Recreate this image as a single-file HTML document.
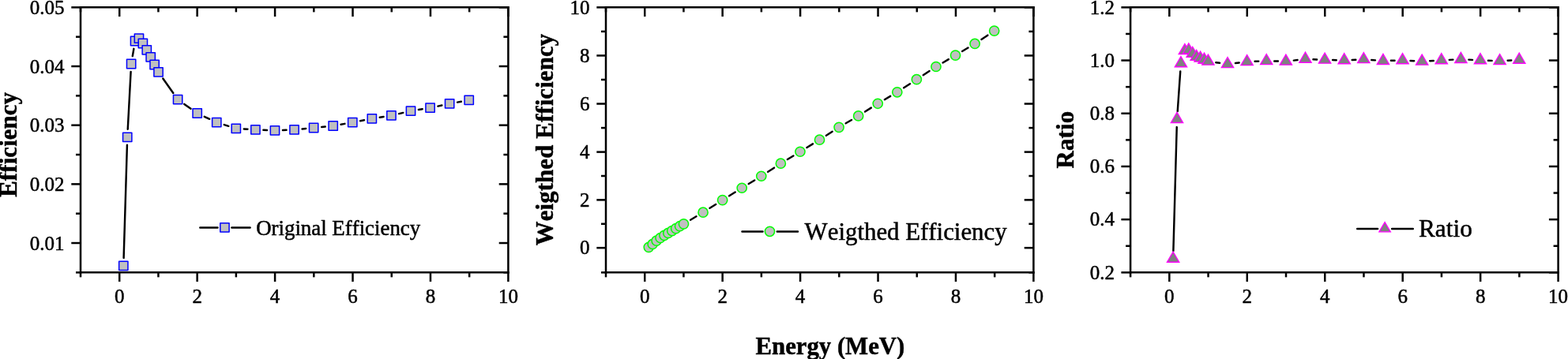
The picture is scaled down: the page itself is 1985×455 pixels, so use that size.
<!DOCTYPE html>
<html lang="en">
<head>
<meta charset="utf-8">
<title>Efficiency plots</title>
<style>
html,body{margin:0;padding:0;background:#fff;}
body{width:1985px;height:455px;overflow:hidden;}
svg{display:block;}
svg text{font-family:"Liberation Serif",serif;fill:#000;stroke:#000;stroke-width:0.5px;stroke-linejoin:round;font-variant-ligatures:none;font-kerning:none;}
</style>
</head>
<body>
<svg width="1985" height="455" viewBox="0 0 1985 455">
<rect width="1985" height="455" fill="#fff"/>
<line x1="100.75" y1="9.35" x2="644.65" y2="9.35" stroke="#000" stroke-width="2.5" stroke-linecap="butt"/>
<line x1="100.75" y1="345.35" x2="644.65" y2="345.35" stroke="#000" stroke-width="2.5" stroke-linecap="butt"/>
<line x1="102" y1="8.1" x2="102" y2="346.6" stroke="#000" stroke-width="2.5" stroke-linecap="butt"/>
<line x1="643.4" y1="8.1" x2="643.4" y2="346.6" stroke="#000" stroke-width="2.5" stroke-linecap="butt"/>
<line x1="102" y1="345.35" x2="102" y2="351.35" stroke="#000" stroke-width="2.5" stroke-linecap="butt"/>
<line x1="102" y1="9.35" x2="102" y2="15.35" stroke="#000" stroke-width="2.5" stroke-linecap="butt"/>
<line x1="151.22" y1="345.35" x2="151.22" y2="357.05" stroke="#000" stroke-width="2.5" stroke-linecap="butt"/>
<line x1="151.22" y1="9.35" x2="151.22" y2="21.05" stroke="#000" stroke-width="2.5" stroke-linecap="butt"/>
<text x="151.22" y="383.65" font-size="25" text-anchor="middle">0</text>
<line x1="200.44" y1="345.35" x2="200.44" y2="351.35" stroke="#000" stroke-width="2.5" stroke-linecap="butt"/>
<line x1="200.44" y1="9.35" x2="200.44" y2="15.35" stroke="#000" stroke-width="2.5" stroke-linecap="butt"/>
<line x1="249.65" y1="345.35" x2="249.65" y2="357.05" stroke="#000" stroke-width="2.5" stroke-linecap="butt"/>
<line x1="249.65" y1="9.35" x2="249.65" y2="21.05" stroke="#000" stroke-width="2.5" stroke-linecap="butt"/>
<text x="249.65" y="383.65" font-size="25" text-anchor="middle">2</text>
<line x1="298.87" y1="345.35" x2="298.87" y2="351.35" stroke="#000" stroke-width="2.5" stroke-linecap="butt"/>
<line x1="298.87" y1="9.35" x2="298.87" y2="15.35" stroke="#000" stroke-width="2.5" stroke-linecap="butt"/>
<line x1="348.09" y1="345.35" x2="348.09" y2="357.05" stroke="#000" stroke-width="2.5" stroke-linecap="butt"/>
<line x1="348.09" y1="9.35" x2="348.09" y2="21.05" stroke="#000" stroke-width="2.5" stroke-linecap="butt"/>
<text x="348.09" y="383.65" font-size="25" text-anchor="middle">4</text>
<line x1="397.31" y1="345.35" x2="397.31" y2="351.35" stroke="#000" stroke-width="2.5" stroke-linecap="butt"/>
<line x1="397.31" y1="9.35" x2="397.31" y2="15.35" stroke="#000" stroke-width="2.5" stroke-linecap="butt"/>
<line x1="446.53" y1="345.35" x2="446.53" y2="357.05" stroke="#000" stroke-width="2.5" stroke-linecap="butt"/>
<line x1="446.53" y1="9.35" x2="446.53" y2="21.05" stroke="#000" stroke-width="2.5" stroke-linecap="butt"/>
<text x="446.53" y="383.65" font-size="25" text-anchor="middle">6</text>
<line x1="495.75" y1="345.35" x2="495.75" y2="351.35" stroke="#000" stroke-width="2.5" stroke-linecap="butt"/>
<line x1="495.75" y1="9.35" x2="495.75" y2="15.35" stroke="#000" stroke-width="2.5" stroke-linecap="butt"/>
<line x1="544.96" y1="345.35" x2="544.96" y2="357.05" stroke="#000" stroke-width="2.5" stroke-linecap="butt"/>
<line x1="544.96" y1="9.35" x2="544.96" y2="21.05" stroke="#000" stroke-width="2.5" stroke-linecap="butt"/>
<text x="544.96" y="383.65" font-size="25" text-anchor="middle">8</text>
<line x1="594.18" y1="345.35" x2="594.18" y2="351.35" stroke="#000" stroke-width="2.5" stroke-linecap="butt"/>
<line x1="594.18" y1="9.35" x2="594.18" y2="15.35" stroke="#000" stroke-width="2.5" stroke-linecap="butt"/>
<line x1="643.4" y1="345.35" x2="643.4" y2="357.05" stroke="#000" stroke-width="2.5" stroke-linecap="butt"/>
<line x1="643.4" y1="9.35" x2="643.4" y2="21.05" stroke="#000" stroke-width="2.5" stroke-linecap="butt"/>
<text x="643.4" y="383.65" font-size="25" text-anchor="middle">10</text>
<line x1="90.3" y1="308.02" x2="102" y2="308.02" stroke="#000" stroke-width="2.5" stroke-linecap="butt"/>
<line x1="631.7" y1="308.02" x2="643.4" y2="308.02" stroke="#000" stroke-width="2.5" stroke-linecap="butt"/>
<line x1="90.3" y1="233.35" x2="102" y2="233.35" stroke="#000" stroke-width="2.5" stroke-linecap="butt"/>
<line x1="631.7" y1="233.35" x2="643.4" y2="233.35" stroke="#000" stroke-width="2.5" stroke-linecap="butt"/>
<line x1="90.3" y1="158.68" x2="102" y2="158.68" stroke="#000" stroke-width="2.5" stroke-linecap="butt"/>
<line x1="631.7" y1="158.68" x2="643.4" y2="158.68" stroke="#000" stroke-width="2.5" stroke-linecap="butt"/>
<line x1="90.3" y1="84.02" x2="102" y2="84.02" stroke="#000" stroke-width="2.5" stroke-linecap="butt"/>
<line x1="631.7" y1="84.02" x2="643.4" y2="84.02" stroke="#000" stroke-width="2.5" stroke-linecap="butt"/>
<line x1="90.3" y1="9.35" x2="102" y2="9.35" stroke="#000" stroke-width="2.5" stroke-linecap="butt"/>
<line x1="631.7" y1="9.35" x2="643.4" y2="9.35" stroke="#000" stroke-width="2.5" stroke-linecap="butt"/>
<line x1="96" y1="345.35" x2="102" y2="345.35" stroke="#000" stroke-width="2.5" stroke-linecap="butt"/>
<line x1="637.4" y1="345.35" x2="643.4" y2="345.35" stroke="#000" stroke-width="2.5" stroke-linecap="butt"/>
<line x1="96" y1="270.68" x2="102" y2="270.68" stroke="#000" stroke-width="2.5" stroke-linecap="butt"/>
<line x1="637.4" y1="270.68" x2="643.4" y2="270.68" stroke="#000" stroke-width="2.5" stroke-linecap="butt"/>
<line x1="96" y1="196.02" x2="102" y2="196.02" stroke="#000" stroke-width="2.5" stroke-linecap="butt"/>
<line x1="637.4" y1="196.02" x2="643.4" y2="196.02" stroke="#000" stroke-width="2.5" stroke-linecap="butt"/>
<line x1="96" y1="121.35" x2="102" y2="121.35" stroke="#000" stroke-width="2.5" stroke-linecap="butt"/>
<line x1="637.4" y1="121.35" x2="643.4" y2="121.35" stroke="#000" stroke-width="2.5" stroke-linecap="butt"/>
<line x1="96" y1="46.68" x2="102" y2="46.68" stroke="#000" stroke-width="2.5" stroke-linecap="butt"/>
<line x1="637.4" y1="46.68" x2="643.4" y2="46.68" stroke="#000" stroke-width="2.5" stroke-linecap="butt"/>
<text x="81.5" y="316.57" font-size="25" text-anchor="end">0.01</text>
<text x="81.5" y="241.9" font-size="25" text-anchor="end">0.02</text>
<text x="81.5" y="167.23" font-size="25" text-anchor="end">0.03</text>
<text x="81.5" y="92.57" font-size="25" text-anchor="end">0.04</text>
<text x="81.5" y="17.9" font-size="25" text-anchor="end">0.05</text>
<line x1="156.6" y1="326.9" x2="160.92" y2="183.8" stroke="#000" stroke-width="2.45" stroke-linecap="round"/>
<line x1="161.75" y1="163.81" x2="165.6" y2="90.99" stroke="#000" stroke-width="2.45" stroke-linecap="round"/>
<line x1="167.8" y1="71.14" x2="169.38" y2="61.86" stroke="#000" stroke-width="2.45" stroke-linecap="round"/>
<line x1="206.3" y1="99.47" x2="219.34" y2="117.93" stroke="#000" stroke-width="2.45" stroke-linecap="round"/>
<line x1="233.27" y1="131.88" x2="241.52" y2="137.72" stroke="#000" stroke-width="2.45" stroke-linecap="round"/>
<line x1="258.73" y1="147.77" x2="265.22" y2="150.83" stroke="#000" stroke-width="2.45" stroke-linecap="round"/>
<line x1="283.8" y1="158.09" x2="289.29" y2="159.81" stroke="#000" stroke-width="2.45" stroke-linecap="round"/>
<line x1="308.81" y1="163.45" x2="313.43" y2="163.75" stroke="#000" stroke-width="2.45" stroke-linecap="round"/>
<line x1="333.4" y1="164.81" x2="337.99" y2="164.99" stroke="#000" stroke-width="2.45" stroke-linecap="round"/>
<line x1="357.97" y1="164.99" x2="362.56" y2="164.81" stroke="#000" stroke-width="2.45" stroke-linecap="round"/>
<line x1="382.51" y1="163.43" x2="387.18" y2="162.97" stroke="#000" stroke-width="2.45" stroke-linecap="round"/>
<line x1="407.08" y1="160.99" x2="411.75" y2="160.51" stroke="#000" stroke-width="2.45" stroke-linecap="round"/>
<line x1="431.55" y1="157.74" x2="436.43" y2="156.86" stroke="#000" stroke-width="2.45" stroke-linecap="round"/>
<line x1="456.1" y1="153.22" x2="461.03" y2="152.28" stroke="#000" stroke-width="2.45" stroke-linecap="round"/>
<line x1="480.72" y1="148.79" x2="485.56" y2="148.01" stroke="#000" stroke-width="2.45" stroke-linecap="round"/>
<line x1="505.16" y1="144.1" x2="510.27" y2="142.9" stroke="#000" stroke-width="2.45" stroke-linecap="round"/>
<line x1="529.88" y1="139.03" x2="534.7" y2="138.27" stroke="#000" stroke-width="2.45" stroke-linecap="round"/>
<line x1="554.35" y1="134.59" x2="559.37" y2="133.51" stroke="#000" stroke-width="2.45" stroke-linecap="round"/>
<line x1="578.98" y1="129.6" x2="583.89" y2="128.7" stroke="#000" stroke-width="2.45" stroke-linecap="round"/>
<rect x="150.65" y="331.25" width="11.3" height="11.3" fill="#c0c0c0" stroke="#0000ff" stroke-width="1.5" stroke-linejoin="round"/>
<rect x="155.57" y="168.15" width="11.3" height="11.3" fill="#c0c0c0" stroke="#0000ff" stroke-width="1.5" stroke-linejoin="round"/>
<rect x="160.48" y="75.35" width="11.3" height="11.3" fill="#c0c0c0" stroke="#0000ff" stroke-width="1.5" stroke-linejoin="round"/>
<rect x="165.4" y="46.35" width="11.3" height="11.3" fill="#c0c0c0" stroke="#0000ff" stroke-width="1.5" stroke-linejoin="round"/>
<rect x="170.31" y="43.05" width="11.3" height="11.3" fill="#c0c0c0" stroke="#0000ff" stroke-width="1.5" stroke-linejoin="round"/>
<rect x="175.23" y="49.35" width="11.3" height="11.3" fill="#c0c0c0" stroke="#0000ff" stroke-width="1.5" stroke-linejoin="round"/>
<rect x="180.14" y="57.75" width="11.3" height="11.3" fill="#c0c0c0" stroke="#0000ff" stroke-width="1.5" stroke-linejoin="round"/>
<rect x="185.06" y="66.75" width="11.3" height="11.3" fill="#c0c0c0" stroke="#0000ff" stroke-width="1.5" stroke-linejoin="round"/>
<rect x="189.97" y="76.35" width="11.3" height="11.3" fill="#c0c0c0" stroke="#0000ff" stroke-width="1.5" stroke-linejoin="round"/>
<rect x="194.89" y="85.65" width="11.3" height="11.3" fill="#c0c0c0" stroke="#0000ff" stroke-width="1.5" stroke-linejoin="round"/>
<rect x="219.46" y="120.45" width="11.3" height="11.3" fill="#c0c0c0" stroke="#0000ff" stroke-width="1.5" stroke-linejoin="round"/>
<rect x="244.03" y="137.85" width="11.3" height="11.3" fill="#c0c0c0" stroke="#0000ff" stroke-width="1.5" stroke-linejoin="round"/>
<rect x="268.61" y="149.45" width="11.3" height="11.3" fill="#c0c0c0" stroke="#0000ff" stroke-width="1.5" stroke-linejoin="round"/>
<rect x="293.18" y="157.15" width="11.3" height="11.3" fill="#c0c0c0" stroke="#0000ff" stroke-width="1.5" stroke-linejoin="round"/>
<rect x="317.76" y="158.75" width="11.3" height="11.3" fill="#c0c0c0" stroke="#0000ff" stroke-width="1.5" stroke-linejoin="round"/>
<rect x="342.33" y="159.75" width="11.3" height="11.3" fill="#c0c0c0" stroke="#0000ff" stroke-width="1.5" stroke-linejoin="round"/>
<rect x="366.91" y="158.75" width="11.3" height="11.3" fill="#c0c0c0" stroke="#0000ff" stroke-width="1.5" stroke-linejoin="round"/>
<rect x="391.48" y="156.35" width="11.3" height="11.3" fill="#c0c0c0" stroke="#0000ff" stroke-width="1.5" stroke-linejoin="round"/>
<rect x="416.05" y="153.85" width="11.3" height="11.3" fill="#c0c0c0" stroke="#0000ff" stroke-width="1.5" stroke-linejoin="round"/>
<rect x="440.63" y="149.45" width="11.3" height="11.3" fill="#c0c0c0" stroke="#0000ff" stroke-width="1.5" stroke-linejoin="round"/>
<rect x="465.2" y="144.75" width="11.3" height="11.3" fill="#c0c0c0" stroke="#0000ff" stroke-width="1.5" stroke-linejoin="round"/>
<rect x="489.78" y="140.75" width="11.3" height="11.3" fill="#c0c0c0" stroke="#0000ff" stroke-width="1.5" stroke-linejoin="round"/>
<rect x="514.35" y="134.95" width="11.3" height="11.3" fill="#c0c0c0" stroke="#0000ff" stroke-width="1.5" stroke-linejoin="round"/>
<rect x="538.92" y="131.05" width="11.3" height="11.3" fill="#c0c0c0" stroke="#0000ff" stroke-width="1.5" stroke-linejoin="round"/>
<rect x="563.5" y="125.75" width="11.3" height="11.3" fill="#c0c0c0" stroke="#0000ff" stroke-width="1.5" stroke-linejoin="round"/>
<rect x="588.07" y="121.25" width="11.3" height="11.3" fill="#c0c0c0" stroke="#0000ff" stroke-width="1.5" stroke-linejoin="round"/>
<line x1="253.3" y1="288.4" x2="275.5" y2="288.4" stroke="#000" stroke-width="2.45" stroke-linecap="round"/>
<line x1="293.4" y1="288.4" x2="316.6" y2="288.4" stroke="#000" stroke-width="2.45" stroke-linecap="round"/>
<rect x="278.8" y="282.8" width="11.3" height="11.3" fill="#c0c0c0" stroke="#0000ff" stroke-width="1.5" stroke-linejoin="round"/>
<text x="324.2" y="297.8" font-size="26.85" text-anchor="start">Original Efficiency</text>
<text x="0" y="0" font-size="30.75" text-anchor="middle" font-weight="bold" transform="translate(20.8 183.3) rotate(-90)" letter-spacing="0.15">Efficiency</text>
<line x1="765.75" y1="9.35" x2="1309.65" y2="9.35" stroke="#000" stroke-width="2.5" stroke-linecap="butt"/>
<line x1="765.75" y1="345.35" x2="1309.65" y2="345.35" stroke="#000" stroke-width="2.5" stroke-linecap="butt"/>
<line x1="767" y1="8.1" x2="767" y2="346.6" stroke="#000" stroke-width="2.5" stroke-linecap="butt"/>
<line x1="1308.4" y1="8.1" x2="1308.4" y2="346.6" stroke="#000" stroke-width="2.5" stroke-linecap="butt"/>
<line x1="767" y1="345.35" x2="767" y2="351.35" stroke="#000" stroke-width="2.5" stroke-linecap="butt"/>
<line x1="767" y1="9.35" x2="767" y2="15.35" stroke="#000" stroke-width="2.5" stroke-linecap="butt"/>
<line x1="816.22" y1="345.35" x2="816.22" y2="357.05" stroke="#000" stroke-width="2.5" stroke-linecap="butt"/>
<line x1="816.22" y1="9.35" x2="816.22" y2="21.05" stroke="#000" stroke-width="2.5" stroke-linecap="butt"/>
<text x="816.22" y="383.65" font-size="25" text-anchor="middle">0</text>
<line x1="865.44" y1="345.35" x2="865.44" y2="351.35" stroke="#000" stroke-width="2.5" stroke-linecap="butt"/>
<line x1="865.44" y1="9.35" x2="865.44" y2="15.35" stroke="#000" stroke-width="2.5" stroke-linecap="butt"/>
<line x1="914.65" y1="345.35" x2="914.65" y2="357.05" stroke="#000" stroke-width="2.5" stroke-linecap="butt"/>
<line x1="914.65" y1="9.35" x2="914.65" y2="21.05" stroke="#000" stroke-width="2.5" stroke-linecap="butt"/>
<text x="914.65" y="383.65" font-size="25" text-anchor="middle">2</text>
<line x1="963.87" y1="345.35" x2="963.87" y2="351.35" stroke="#000" stroke-width="2.5" stroke-linecap="butt"/>
<line x1="963.87" y1="9.35" x2="963.87" y2="15.35" stroke="#000" stroke-width="2.5" stroke-linecap="butt"/>
<line x1="1013.09" y1="345.35" x2="1013.09" y2="357.05" stroke="#000" stroke-width="2.5" stroke-linecap="butt"/>
<line x1="1013.09" y1="9.35" x2="1013.09" y2="21.05" stroke="#000" stroke-width="2.5" stroke-linecap="butt"/>
<text x="1013.09" y="383.65" font-size="25" text-anchor="middle">4</text>
<line x1="1062.31" y1="345.35" x2="1062.31" y2="351.35" stroke="#000" stroke-width="2.5" stroke-linecap="butt"/>
<line x1="1062.31" y1="9.35" x2="1062.31" y2="15.35" stroke="#000" stroke-width="2.5" stroke-linecap="butt"/>
<line x1="1111.53" y1="345.35" x2="1111.53" y2="357.05" stroke="#000" stroke-width="2.5" stroke-linecap="butt"/>
<line x1="1111.53" y1="9.35" x2="1111.53" y2="21.05" stroke="#000" stroke-width="2.5" stroke-linecap="butt"/>
<text x="1111.53" y="383.65" font-size="25" text-anchor="middle">6</text>
<line x1="1160.75" y1="345.35" x2="1160.75" y2="351.35" stroke="#000" stroke-width="2.5" stroke-linecap="butt"/>
<line x1="1160.75" y1="9.35" x2="1160.75" y2="15.35" stroke="#000" stroke-width="2.5" stroke-linecap="butt"/>
<line x1="1209.96" y1="345.35" x2="1209.96" y2="357.05" stroke="#000" stroke-width="2.5" stroke-linecap="butt"/>
<line x1="1209.96" y1="9.35" x2="1209.96" y2="21.05" stroke="#000" stroke-width="2.5" stroke-linecap="butt"/>
<text x="1209.96" y="383.65" font-size="25" text-anchor="middle">8</text>
<line x1="1259.18" y1="345.35" x2="1259.18" y2="351.35" stroke="#000" stroke-width="2.5" stroke-linecap="butt"/>
<line x1="1259.18" y1="9.35" x2="1259.18" y2="15.35" stroke="#000" stroke-width="2.5" stroke-linecap="butt"/>
<line x1="1308.4" y1="345.35" x2="1308.4" y2="357.05" stroke="#000" stroke-width="2.5" stroke-linecap="butt"/>
<line x1="1308.4" y1="9.35" x2="1308.4" y2="21.05" stroke="#000" stroke-width="2.5" stroke-linecap="butt"/>
<text x="1308.4" y="383.65" font-size="25" text-anchor="middle">10</text>
<line x1="755.3" y1="314.14" x2="767" y2="314.14" stroke="#000" stroke-width="2.5" stroke-linecap="butt"/>
<line x1="1296.7" y1="314.14" x2="1308.4" y2="314.14" stroke="#000" stroke-width="2.5" stroke-linecap="butt"/>
<line x1="755.3" y1="253.38" x2="767" y2="253.38" stroke="#000" stroke-width="2.5" stroke-linecap="butt"/>
<line x1="1296.7" y1="253.38" x2="1308.4" y2="253.38" stroke="#000" stroke-width="2.5" stroke-linecap="butt"/>
<line x1="755.3" y1="192.62" x2="767" y2="192.62" stroke="#000" stroke-width="2.5" stroke-linecap="butt"/>
<line x1="1296.7" y1="192.62" x2="1308.4" y2="192.62" stroke="#000" stroke-width="2.5" stroke-linecap="butt"/>
<line x1="755.3" y1="131.53" x2="767" y2="131.53" stroke="#000" stroke-width="2.5" stroke-linecap="butt"/>
<line x1="1296.7" y1="131.53" x2="1308.4" y2="131.53" stroke="#000" stroke-width="2.5" stroke-linecap="butt"/>
<line x1="755.3" y1="70.44" x2="767" y2="70.44" stroke="#000" stroke-width="2.5" stroke-linecap="butt"/>
<line x1="1296.7" y1="70.44" x2="1308.4" y2="70.44" stroke="#000" stroke-width="2.5" stroke-linecap="butt"/>
<line x1="755.3" y1="9.35" x2="767" y2="9.35" stroke="#000" stroke-width="2.5" stroke-linecap="butt"/>
<line x1="1296.7" y1="9.35" x2="1308.4" y2="9.35" stroke="#000" stroke-width="2.5" stroke-linecap="butt"/>
<line x1="761" y1="345.35" x2="767" y2="345.35" stroke="#000" stroke-width="2.5" stroke-linecap="butt"/>
<line x1="1302.4" y1="345.35" x2="1308.4" y2="345.35" stroke="#000" stroke-width="2.5" stroke-linecap="butt"/>
<line x1="761" y1="283.76" x2="767" y2="283.76" stroke="#000" stroke-width="2.5" stroke-linecap="butt"/>
<line x1="1302.4" y1="283.76" x2="1308.4" y2="283.76" stroke="#000" stroke-width="2.5" stroke-linecap="butt"/>
<line x1="761" y1="223" x2="767" y2="223" stroke="#000" stroke-width="2.5" stroke-linecap="butt"/>
<line x1="1302.4" y1="223" x2="1308.4" y2="223" stroke="#000" stroke-width="2.5" stroke-linecap="butt"/>
<line x1="761" y1="162.08" x2="767" y2="162.08" stroke="#000" stroke-width="2.5" stroke-linecap="butt"/>
<line x1="1302.4" y1="162.08" x2="1308.4" y2="162.08" stroke="#000" stroke-width="2.5" stroke-linecap="butt"/>
<line x1="761" y1="100.98" x2="767" y2="100.98" stroke="#000" stroke-width="2.5" stroke-linecap="butt"/>
<line x1="1302.4" y1="100.98" x2="1308.4" y2="100.98" stroke="#000" stroke-width="2.5" stroke-linecap="butt"/>
<line x1="761" y1="39.9" x2="767" y2="39.9" stroke="#000" stroke-width="2.5" stroke-linecap="butt"/>
<line x1="1302.4" y1="39.9" x2="1308.4" y2="39.9" stroke="#000" stroke-width="2.5" stroke-linecap="butt"/>
<text x="746.6" y="322.44" font-size="25" text-anchor="end">0</text>
<text x="746.6" y="261.68" font-size="25" text-anchor="end">2</text>
<text x="746.6" y="200.92" font-size="25" text-anchor="end">4</text>
<text x="746.6" y="139.83" font-size="25" text-anchor="end">6</text>
<text x="746.6" y="78.74" font-size="25" text-anchor="end">8</text>
<text x="746.6" y="17.65" font-size="25" text-anchor="end">10</text>
<line x1="874.07" y1="278.72" x2="881.48" y2="274.29" stroke="#000" stroke-width="2.45" stroke-linecap="round"/>
<line x1="898.51" y1="263.82" x2="906.18" y2="258.97" stroke="#000" stroke-width="2.45" stroke-linecap="round"/>
<line x1="923.12" y1="248.33" x2="930.73" y2="243.57" stroke="#000" stroke-width="2.45" stroke-linecap="round"/>
<line x1="947.74" y1="233.06" x2="955.25" y2="228.47" stroke="#000" stroke-width="2.45" stroke-linecap="round"/>
<line x1="972.15" y1="217.79" x2="979.99" y2="212.66" stroke="#000" stroke-width="2.45" stroke-linecap="round"/>
<line x1="996.9" y1="201.99" x2="1004.39" y2="197.44" stroke="#000" stroke-width="2.45" stroke-linecap="round"/>
<line x1="1021.45" y1="187.01" x2="1028.98" y2="182.39" stroke="#000" stroke-width="2.45" stroke-linecap="round"/>
<line x1="1045.92" y1="171.76" x2="1053.67" y2="166.78" stroke="#000" stroke-width="2.45" stroke-linecap="round"/>
<line x1="1070.7" y1="156.3" x2="1078.03" y2="151.99" stroke="#000" stroke-width="2.45" stroke-linecap="round"/>
<line x1="1095.09" y1="141.56" x2="1102.79" y2="136.65" stroke="#000" stroke-width="2.45" stroke-linecap="round"/>
<line x1="1119.85" y1="126.21" x2="1127.18" y2="121.89" stroke="#000" stroke-width="2.45" stroke-linecap="round"/>
<line x1="1144.16" y1="111.33" x2="1152.01" y2="106.18" stroke="#000" stroke-width="2.45" stroke-linecap="round"/>
<line x1="1168.73" y1="95.2" x2="1176.6" y2="90.02" stroke="#000" stroke-width="2.45" stroke-linecap="round"/>
<line x1="1193.58" y1="79.46" x2="1200.9" y2="75.17" stroke="#000" stroke-width="2.45" stroke-linecap="round"/>
<line x1="1218.11" y1="64.99" x2="1225.51" y2="60.56" stroke="#000" stroke-width="2.45" stroke-linecap="round"/>
<line x1="1242.43" y1="49.91" x2="1250.34" y2="44.65" stroke="#000" stroke-width="2.45" stroke-linecap="round"/>
<circle cx="821.25" cy="313.37" r="6.1" fill="#c0c0c0" stroke="#00ff00" stroke-width="1.5"/>
<circle cx="826.17" cy="309.41" r="6.1" fill="#c0c0c0" stroke="#00ff00" stroke-width="1.5"/>
<circle cx="831.08" cy="305.12" r="6.1" fill="#c0c0c0" stroke="#00ff00" stroke-width="1.5"/>
<circle cx="836" cy="301.53" r="6.1" fill="#c0c0c0" stroke="#00ff00" stroke-width="1.5"/>
<circle cx="840.91" cy="298.35" r="6.1" fill="#c0c0c0" stroke="#00ff00" stroke-width="1.5"/>
<circle cx="845.83" cy="295.43" r="6.1" fill="#c0c0c0" stroke="#00ff00" stroke-width="1.5"/>
<circle cx="850.74" cy="292.57" r="6.1" fill="#c0c0c0" stroke="#00ff00" stroke-width="1.5"/>
<circle cx="855.66" cy="289.62" r="6.1" fill="#c0c0c0" stroke="#00ff00" stroke-width="1.5"/>
<circle cx="860.57" cy="286.72" r="6.1" fill="#c0c0c0" stroke="#00ff00" stroke-width="1.5"/>
<circle cx="865.49" cy="283.85" r="6.1" fill="#c0c0c0" stroke="#00ff00" stroke-width="1.5"/>
<circle cx="890.06" cy="269.16" r="6.1" fill="#c0c0c0" stroke="#00ff00" stroke-width="1.5"/>
<circle cx="914.63" cy="253.62" r="6.1" fill="#c0c0c0" stroke="#00ff00" stroke-width="1.5"/>
<circle cx="939.21" cy="238.27" r="6.1" fill="#c0c0c0" stroke="#00ff00" stroke-width="1.5"/>
<circle cx="963.78" cy="223.26" r="6.1" fill="#c0c0c0" stroke="#00ff00" stroke-width="1.5"/>
<circle cx="988.36" cy="207.19" r="6.1" fill="#c0c0c0" stroke="#00ff00" stroke-width="1.5"/>
<circle cx="1012.93" cy="192.24" r="6.1" fill="#c0c0c0" stroke="#00ff00" stroke-width="1.5"/>
<circle cx="1037.51" cy="177.16" r="6.1" fill="#c0c0c0" stroke="#00ff00" stroke-width="1.5"/>
<circle cx="1062.08" cy="161.37" r="6.1" fill="#c0c0c0" stroke="#00ff00" stroke-width="1.5"/>
<circle cx="1086.65" cy="146.93" r="6.1" fill="#c0c0c0" stroke="#00ff00" stroke-width="1.5"/>
<circle cx="1111.23" cy="131.28" r="6.1" fill="#c0c0c0" stroke="#00ff00" stroke-width="1.5"/>
<circle cx="1135.8" cy="116.82" r="6.1" fill="#c0c0c0" stroke="#00ff00" stroke-width="1.5"/>
<circle cx="1160.38" cy="100.7" r="6.1" fill="#c0c0c0" stroke="#00ff00" stroke-width="1.5"/>
<circle cx="1184.95" cy="84.52" r="6.1" fill="#c0c0c0" stroke="#00ff00" stroke-width="1.5"/>
<circle cx="1209.52" cy="70.11" r="6.1" fill="#c0c0c0" stroke="#00ff00" stroke-width="1.5"/>
<circle cx="1234.1" cy="55.44" r="6.1" fill="#c0c0c0" stroke="#00ff00" stroke-width="1.5"/>
<circle cx="1258.67" cy="39.12" r="6.1" fill="#c0c0c0" stroke="#00ff00" stroke-width="1.5"/>
<line x1="939.5" y1="293.5" x2="965.5" y2="293.5" stroke="#000" stroke-width="2.45" stroke-linecap="round"/>
<line x1="983.8" y1="293.5" x2="1010" y2="293.5" stroke="#000" stroke-width="2.45" stroke-linecap="round"/>
<circle cx="974.5" cy="293.3" r="6.1" fill="#c0c0c0" stroke="#00ff00" stroke-width="1.5"/>
<text x="1018.6" y="304" font-size="30.85" text-anchor="start">Weigthed Efficiency</text>
<text x="0" y="0" font-size="30.75" text-anchor="middle" font-weight="bold" transform="translate(699.85 177) rotate(-90)" letter-spacing="0.15">Weigthed Efficiency</text>
<line x1="1429.85" y1="9.35" x2="1973.85" y2="9.35" stroke="#000" stroke-width="2.5" stroke-linecap="butt"/>
<line x1="1429.85" y1="345.35" x2="1973.85" y2="345.35" stroke="#000" stroke-width="2.5" stroke-linecap="butt"/>
<line x1="1431.1" y1="8.1" x2="1431.1" y2="346.6" stroke="#000" stroke-width="2.5" stroke-linecap="butt"/>
<line x1="1972.6" y1="8.1" x2="1972.6" y2="346.6" stroke="#000" stroke-width="2.5" stroke-linecap="butt"/>
<line x1="1431.1" y1="345.35" x2="1431.1" y2="351.35" stroke="#000" stroke-width="2.5" stroke-linecap="butt"/>
<line x1="1431.1" y1="9.35" x2="1431.1" y2="15.35" stroke="#000" stroke-width="2.5" stroke-linecap="butt"/>
<line x1="1480.33" y1="345.35" x2="1480.33" y2="357.05" stroke="#000" stroke-width="2.5" stroke-linecap="butt"/>
<line x1="1480.33" y1="9.35" x2="1480.33" y2="21.05" stroke="#000" stroke-width="2.5" stroke-linecap="butt"/>
<text x="1480.33" y="383.65" font-size="25" text-anchor="middle">0</text>
<line x1="1529.55" y1="345.35" x2="1529.55" y2="351.35" stroke="#000" stroke-width="2.5" stroke-linecap="butt"/>
<line x1="1529.55" y1="9.35" x2="1529.55" y2="15.35" stroke="#000" stroke-width="2.5" stroke-linecap="butt"/>
<line x1="1578.78" y1="345.35" x2="1578.78" y2="357.05" stroke="#000" stroke-width="2.5" stroke-linecap="butt"/>
<line x1="1578.78" y1="9.35" x2="1578.78" y2="21.05" stroke="#000" stroke-width="2.5" stroke-linecap="butt"/>
<text x="1578.78" y="383.65" font-size="25" text-anchor="middle">2</text>
<line x1="1628.01" y1="345.35" x2="1628.01" y2="351.35" stroke="#000" stroke-width="2.5" stroke-linecap="butt"/>
<line x1="1628.01" y1="9.35" x2="1628.01" y2="15.35" stroke="#000" stroke-width="2.5" stroke-linecap="butt"/>
<line x1="1677.24" y1="345.35" x2="1677.24" y2="357.05" stroke="#000" stroke-width="2.5" stroke-linecap="butt"/>
<line x1="1677.24" y1="9.35" x2="1677.24" y2="21.05" stroke="#000" stroke-width="2.5" stroke-linecap="butt"/>
<text x="1677.24" y="383.65" font-size="25" text-anchor="middle">4</text>
<line x1="1726.46" y1="345.35" x2="1726.46" y2="351.35" stroke="#000" stroke-width="2.5" stroke-linecap="butt"/>
<line x1="1726.46" y1="9.35" x2="1726.46" y2="15.35" stroke="#000" stroke-width="2.5" stroke-linecap="butt"/>
<line x1="1775.69" y1="345.35" x2="1775.69" y2="357.05" stroke="#000" stroke-width="2.5" stroke-linecap="butt"/>
<line x1="1775.69" y1="9.35" x2="1775.69" y2="21.05" stroke="#000" stroke-width="2.5" stroke-linecap="butt"/>
<text x="1775.69" y="383.65" font-size="25" text-anchor="middle">6</text>
<line x1="1824.92" y1="345.35" x2="1824.92" y2="351.35" stroke="#000" stroke-width="2.5" stroke-linecap="butt"/>
<line x1="1824.92" y1="9.35" x2="1824.92" y2="15.35" stroke="#000" stroke-width="2.5" stroke-linecap="butt"/>
<line x1="1874.15" y1="345.35" x2="1874.15" y2="357.05" stroke="#000" stroke-width="2.5" stroke-linecap="butt"/>
<line x1="1874.15" y1="9.35" x2="1874.15" y2="21.05" stroke="#000" stroke-width="2.5" stroke-linecap="butt"/>
<text x="1874.15" y="383.65" font-size="25" text-anchor="middle">8</text>
<line x1="1923.37" y1="345.35" x2="1923.37" y2="351.35" stroke="#000" stroke-width="2.5" stroke-linecap="butt"/>
<line x1="1923.37" y1="9.35" x2="1923.37" y2="15.35" stroke="#000" stroke-width="2.5" stroke-linecap="butt"/>
<line x1="1972.6" y1="345.35" x2="1972.6" y2="357.05" stroke="#000" stroke-width="2.5" stroke-linecap="butt"/>
<line x1="1972.6" y1="9.35" x2="1972.6" y2="21.05" stroke="#000" stroke-width="2.5" stroke-linecap="butt"/>
<text x="1972.6" y="383.65" font-size="25" text-anchor="middle">10</text>
<line x1="1419.4" y1="345.35" x2="1431.1" y2="345.35" stroke="#000" stroke-width="2.5" stroke-linecap="butt"/>
<line x1="1960.9" y1="345.35" x2="1972.6" y2="345.35" stroke="#000" stroke-width="2.5" stroke-linecap="butt"/>
<line x1="1419.4" y1="278.15" x2="1431.1" y2="278.15" stroke="#000" stroke-width="2.5" stroke-linecap="butt"/>
<line x1="1960.9" y1="278.15" x2="1972.6" y2="278.15" stroke="#000" stroke-width="2.5" stroke-linecap="butt"/>
<line x1="1419.4" y1="210.95" x2="1431.1" y2="210.95" stroke="#000" stroke-width="2.5" stroke-linecap="butt"/>
<line x1="1960.9" y1="210.95" x2="1972.6" y2="210.95" stroke="#000" stroke-width="2.5" stroke-linecap="butt"/>
<line x1="1419.4" y1="143.75" x2="1431.1" y2="143.75" stroke="#000" stroke-width="2.5" stroke-linecap="butt"/>
<line x1="1960.9" y1="143.75" x2="1972.6" y2="143.75" stroke="#000" stroke-width="2.5" stroke-linecap="butt"/>
<line x1="1419.4" y1="76.55" x2="1431.1" y2="76.55" stroke="#000" stroke-width="2.5" stroke-linecap="butt"/>
<line x1="1960.9" y1="76.55" x2="1972.6" y2="76.55" stroke="#000" stroke-width="2.5" stroke-linecap="butt"/>
<line x1="1419.4" y1="9.35" x2="1431.1" y2="9.35" stroke="#000" stroke-width="2.5" stroke-linecap="butt"/>
<line x1="1960.9" y1="9.35" x2="1972.6" y2="9.35" stroke="#000" stroke-width="2.5" stroke-linecap="butt"/>
<line x1="1425.1" y1="311.75" x2="1431.1" y2="311.75" stroke="#000" stroke-width="2.5" stroke-linecap="butt"/>
<line x1="1966.6" y1="311.75" x2="1972.6" y2="311.75" stroke="#000" stroke-width="2.5" stroke-linecap="butt"/>
<line x1="1425.1" y1="244.55" x2="1431.1" y2="244.55" stroke="#000" stroke-width="2.5" stroke-linecap="butt"/>
<line x1="1966.6" y1="244.55" x2="1972.6" y2="244.55" stroke="#000" stroke-width="2.5" stroke-linecap="butt"/>
<line x1="1425.1" y1="177.35" x2="1431.1" y2="177.35" stroke="#000" stroke-width="2.5" stroke-linecap="butt"/>
<line x1="1966.6" y1="177.35" x2="1972.6" y2="177.35" stroke="#000" stroke-width="2.5" stroke-linecap="butt"/>
<line x1="1425.1" y1="110.15" x2="1431.1" y2="110.15" stroke="#000" stroke-width="2.5" stroke-linecap="butt"/>
<line x1="1966.6" y1="110.15" x2="1972.6" y2="110.15" stroke="#000" stroke-width="2.5" stroke-linecap="butt"/>
<line x1="1425.1" y1="42.95" x2="1431.1" y2="42.95" stroke="#000" stroke-width="2.5" stroke-linecap="butt"/>
<line x1="1966.6" y1="42.95" x2="1972.6" y2="42.95" stroke="#000" stroke-width="2.5" stroke-linecap="butt"/>
<text x="1411" y="353.65" font-size="25" text-anchor="end">0.2</text>
<text x="1411" y="286.45" font-size="25" text-anchor="end">0.4</text>
<text x="1411" y="219.25" font-size="25" text-anchor="end">0.6</text>
<text x="1411" y="152.05" font-size="25" text-anchor="end">0.8</text>
<text x="1411" y="84.85" font-size="25" text-anchor="end">1.0</text>
<text x="1411" y="17.65" font-size="25" text-anchor="end">1.2</text>
<line x1="1485.38" y1="317.9" x2="1489.74" y2="161.1" stroke="#000" stroke-width="2.45" stroke-linecap="round"/>
<line x1="1490.72" y1="141.12" x2="1494.25" y2="90.38" stroke="#000" stroke-width="2.45" stroke-linecap="round"/>
<line x1="1539.31" y1="79.17" x2="1544.11" y2="79.83" stroke="#000" stroke-width="2.45" stroke-linecap="round"/>
<line x1="1563.94" y1="79.99" x2="1568.71" y2="79.41" stroke="#000" stroke-width="2.45" stroke-linecap="round"/>
<line x1="1588.62" y1="77.79" x2="1593.25" y2="77.61" stroke="#000" stroke-width="2.45" stroke-linecap="round"/>
<line x1="1613.24" y1="77.44" x2="1617.86" y2="77.56" stroke="#000" stroke-width="2.45" stroke-linecap="round"/>
<line x1="1637.79" y1="76.63" x2="1642.54" y2="76.07" stroke="#000" stroke-width="2.45" stroke-linecap="round"/>
<line x1="1662.47" y1="75.27" x2="1667.09" y2="75.43" stroke="#000" stroke-width="2.45" stroke-linecap="round"/>
<line x1="1687.08" y1="76.04" x2="1691.7" y2="76.16" stroke="#000" stroke-width="2.45" stroke-linecap="round"/>
<line x1="1711.69" y1="75.95" x2="1716.32" y2="75.75" stroke="#000" stroke-width="2.45" stroke-linecap="round"/>
<line x1="1736.29" y1="76.03" x2="1740.95" y2="76.37" stroke="#000" stroke-width="2.45" stroke-linecap="round"/>
<line x1="1760.92" y1="76.82" x2="1765.54" y2="76.68" stroke="#000" stroke-width="2.45" stroke-linecap="round"/>
<line x1="1785.52" y1="76.97" x2="1790.17" y2="77.23" stroke="#000" stroke-width="2.45" stroke-linecap="round"/>
<line x1="1810.14" y1="77.23" x2="1814.78" y2="76.97" stroke="#000" stroke-width="2.45" stroke-linecap="round"/>
<line x1="1834.75" y1="75.87" x2="1839.4" y2="75.63" stroke="#000" stroke-width="2.45" stroke-linecap="round"/>
<line x1="1859.37" y1="75.63" x2="1864.01" y2="75.87" stroke="#000" stroke-width="2.45" stroke-linecap="round"/>
<line x1="1883.99" y1="76.72" x2="1888.61" y2="76.88" stroke="#000" stroke-width="2.45" stroke-linecap="round"/>
<line x1="1908.6" y1="76.67" x2="1913.24" y2="76.43" stroke="#000" stroke-width="2.45" stroke-linecap="round"/>
<polygon points="1485.1,319.17 1477.45,332.27 1492.75,332.27" fill="#808080" stroke="#ff00ff" stroke-width="1.35" stroke-linejoin="miter"/>
<polygon points="1490.02,142.37 1482.37,155.47 1497.67,155.47" fill="#808080" stroke="#ff00ff" stroke-width="1.35" stroke-linejoin="miter"/>
<polygon points="1494.95,71.67 1487.3,84.77 1502.6,84.77" fill="#808080" stroke="#ff00ff" stroke-width="1.35" stroke-linejoin="miter"/>
<polygon points="1499.87,55.57 1492.22,68.67 1507.52,68.67" fill="#808080" stroke="#ff00ff" stroke-width="1.35" stroke-linejoin="miter"/>
<polygon points="1504.79,54.87 1497.14,67.97 1512.44,67.97" fill="#808080" stroke="#ff00ff" stroke-width="1.35" stroke-linejoin="miter"/>
<polygon points="1509.71,59.27 1502.06,72.37 1517.36,72.37" fill="#808080" stroke="#ff00ff" stroke-width="1.35" stroke-linejoin="miter"/>
<polygon points="1514.64,63.27 1506.99,76.37 1522.29,76.37" fill="#808080" stroke="#ff00ff" stroke-width="1.35" stroke-linejoin="miter"/>
<polygon points="1519.56,65.07 1511.91,78.17 1527.21,78.17" fill="#808080" stroke="#ff00ff" stroke-width="1.35" stroke-linejoin="miter"/>
<polygon points="1524.48,67.17 1516.83,80.27 1532.13,80.27" fill="#808080" stroke="#ff00ff" stroke-width="1.35" stroke-linejoin="miter"/>
<polygon points="1529.4,69.07 1521.75,82.17 1537.05,82.17" fill="#808080" stroke="#ff00ff" stroke-width="1.35" stroke-linejoin="miter"/>
<polygon points="1554.02,72.47 1546.37,85.57 1561.67,85.57" fill="#808080" stroke="#ff00ff" stroke-width="1.35" stroke-linejoin="miter"/>
<polygon points="1578.63,69.47 1570.98,82.57 1586.28,82.57" fill="#808080" stroke="#ff00ff" stroke-width="1.35" stroke-linejoin="miter"/>
<polygon points="1603.25,68.47 1595.6,81.57 1610.9,81.57" fill="#808080" stroke="#ff00ff" stroke-width="1.35" stroke-linejoin="miter"/>
<polygon points="1627.86,69.07 1620.21,82.17 1635.51,82.17" fill="#808080" stroke="#ff00ff" stroke-width="1.35" stroke-linejoin="miter"/>
<polygon points="1652.47,66.17 1644.82,79.27 1660.12,79.27" fill="#808080" stroke="#ff00ff" stroke-width="1.35" stroke-linejoin="miter"/>
<polygon points="1677.09,67.07 1669.44,80.17 1684.74,80.17" fill="#808080" stroke="#ff00ff" stroke-width="1.35" stroke-linejoin="miter"/>
<polygon points="1701.7,67.67 1694.05,80.77 1709.35,80.77" fill="#808080" stroke="#ff00ff" stroke-width="1.35" stroke-linejoin="miter"/>
<polygon points="1726.31,66.57 1718.66,79.67 1733.96,79.67" fill="#808080" stroke="#ff00ff" stroke-width="1.35" stroke-linejoin="miter"/>
<polygon points="1750.93,68.37 1743.28,81.47 1758.58,81.47" fill="#808080" stroke="#ff00ff" stroke-width="1.35" stroke-linejoin="miter"/>
<polygon points="1775.54,67.67 1767.89,80.77 1783.19,80.77" fill="#808080" stroke="#ff00ff" stroke-width="1.35" stroke-linejoin="miter"/>
<polygon points="1800.15,69.07 1792.5,82.17 1807.8,82.17" fill="#808080" stroke="#ff00ff" stroke-width="1.35" stroke-linejoin="miter"/>
<polygon points="1824.77,67.67 1817.12,80.77 1832.42,80.77" fill="#808080" stroke="#ff00ff" stroke-width="1.35" stroke-linejoin="miter"/>
<polygon points="1849.38,66.37 1841.73,79.47 1857.03,79.47" fill="#808080" stroke="#ff00ff" stroke-width="1.35" stroke-linejoin="miter"/>
<polygon points="1874,67.67 1866.35,80.77 1881.65,80.77" fill="#808080" stroke="#ff00ff" stroke-width="1.35" stroke-linejoin="miter"/>
<polygon points="1898.61,68.47 1890.96,81.57 1906.26,81.57" fill="#808080" stroke="#ff00ff" stroke-width="1.35" stroke-linejoin="miter"/>
<polygon points="1923.22,67.17 1915.57,80.27 1930.87,80.27" fill="#808080" stroke="#ff00ff" stroke-width="1.35" stroke-linejoin="miter"/>
<line x1="1718.2" y1="290.05" x2="1744.1" y2="290.05" stroke="#000" stroke-width="2.45" stroke-linecap="round"/>
<line x1="1762.1" y1="290.05" x2="1788.8" y2="290.05" stroke="#000" stroke-width="2.45" stroke-linecap="round"/>
<polygon points="1753.1,281.54 1745.91,293.85 1760.29,293.85" fill="#808080" stroke="#ff00ff" stroke-width="1.35" stroke-linejoin="miter"/>
<text x="1796" y="300.4" font-size="31.3" text-anchor="start">Ratio</text>
<text x="0" y="0" font-size="30.75" text-anchor="middle" font-weight="bold" transform="translate(1359.4 177) rotate(-90)" letter-spacing="0.2">Ratio</text>
<text x="1050.9" y="449" font-size="30.75" text-anchor="middle" font-weight="bold">Energy (MeV)</text>
</svg>
</body>
</html>
